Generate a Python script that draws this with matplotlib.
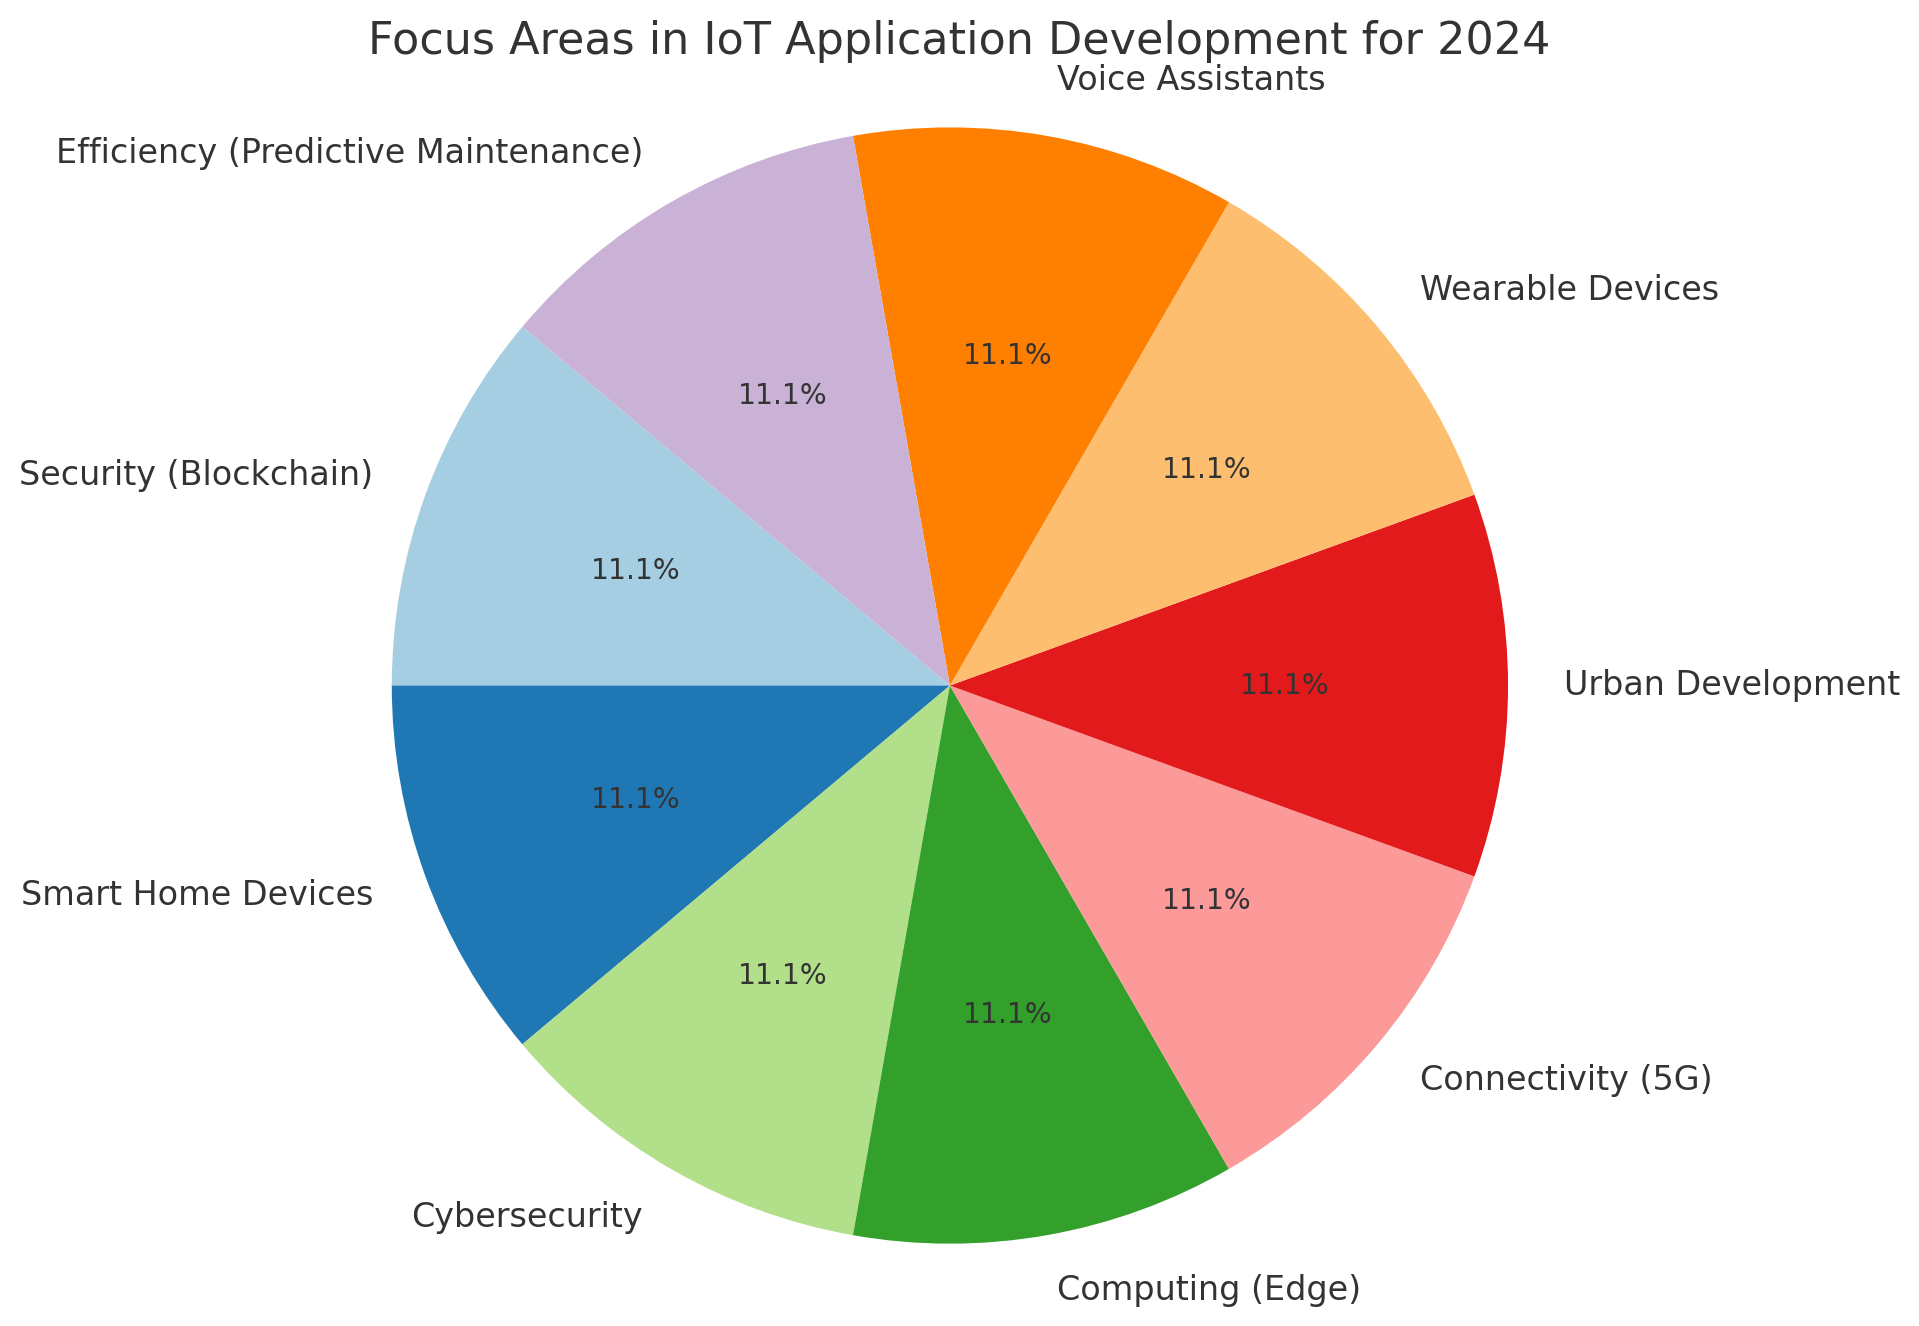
import matplotlib.pyplot as plt

CATEGORIES = [
    "Security (Blockchain)",
    "Smart Home Devices",
    "Cybersecurity",
    "Computing (Edge)",
    "Connectivity (5G)",
    "Urban Development",
    "Wearable Devices",
    "Voice Assistants",
    "Efficiency (Predictive Maintenance)",
]
SHARES = [1, 1, 1, 1, 1, 1, 1, 1, 1]
TITLE = "Focus Areas in IoT Application Development for 2024"

TEXT_COLOR = "#333333"


def draw_chart() -> None:
    plt.rcParams["text.color"] = TEXT_COLOR
    colors = plt.cm.Paired(range(len(CATEGORIES)))

    fig = plt.figure(figsize=(9.595, 6.63), dpi=200)
    ax = fig.add_axes([-0.005, 0.02, 1.0, 0.926])
    ax.pie(
        SHARES,
        labels=CATEGORIES,
        colors=colors,
        autopct="%1.1f%%",
        startangle=140,
        textprops={"fontsize": 12, "color": TEXT_COLOR},
    )
    for t in ax.texts:
        if t.get_text().endswith("%"):
            t.set_fontsize(10.2)
    ax.axis("equal")
    fig.suptitle(TITLE, fontsize=16, color=TEXT_COLOR, y=0.985)
    fig.savefig("out.png", dpi=200)


if __name__ == "__main__":
    draw_chart()
